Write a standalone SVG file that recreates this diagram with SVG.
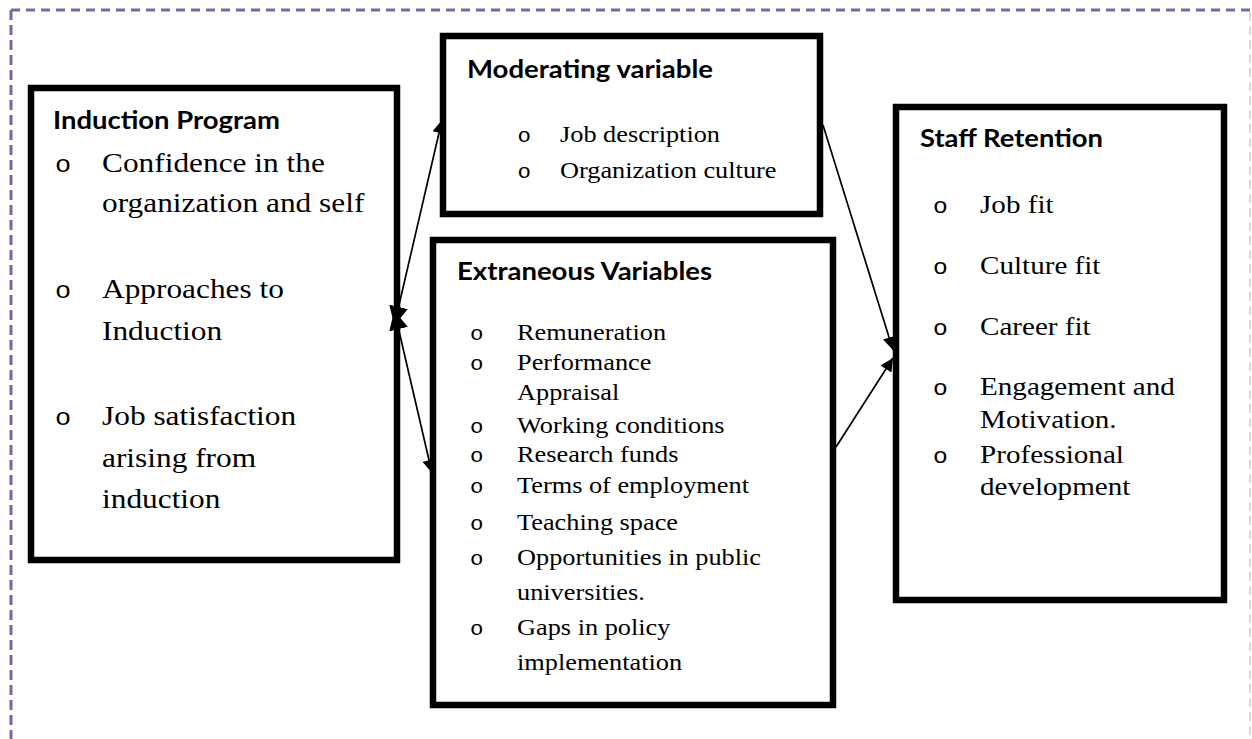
<svg xmlns="http://www.w3.org/2000/svg" width="1252" height="739" viewBox="0 0 1252 739">
  <style>
    .box { fill: #ffffff; stroke: #000000; stroke-width: 6.5; }
    .head { font-family: Lato, "Liberation Sans", sans-serif; font-weight: bold; font-size: 24px; fill: #000; }
    .item { font-family: "Liberation Serif", "Times New Roman", serif; fill: #000; }
    .bul { font-family: "Liberation Mono", "Courier New", monospace; fill: #000; }
    .link { fill: none; stroke: #000; stroke-width: 1.7; }
  </style>
  <defs>
    <marker id="arrB" viewBox="0 0 10 10" refX="10" refY="5" markerWidth="15" markerHeight="13" markerUnits="userSpaceOnUse" orient="auto-start-reverse">
      <path d="M0,0 L10,5 L0,10 z" fill="#000"/>
    </marker>
    <marker id="arrJ" viewBox="0 0 10 10" refX="6" refY="5" markerWidth="19" markerHeight="20" markerUnits="userSpaceOnUse" orient="auto-start-reverse">
      <path d="M0,0 L10,5 L0,10 z" fill="#000"/>
    </marker>
  </defs>
  <rect width="1252" height="739" fill="#ffffff"/>

  <!-- frame -->
  <g id="frame">
    <line x1="11" y1="10" x2="1250" y2="10" stroke="#8064A2" stroke-width="3" stroke-dasharray="9 6"/>
    <line x1="11" y1="10" x2="11" y2="739" stroke="#8064A2" stroke-width="3" stroke-dasharray="10 5"/>
    <line x1="1250" y1="12" x2="1250" y2="739" stroke="#bdbdbd" stroke-width="1.2" stroke-dasharray="9 5"/>
  </g>

  <g id="induction">
    <rect class="box" x="31" y="88" width="366" height="472"/>
    <text class="head" x="53" y="129" textLength="227" lengthAdjust="spacingAndGlyphs">Induction Program</text>
    <g transform="matrix(1.12 0 0 1 102 0)">
      <g class="bul" font-size="24">
        <text x="-42" y="172">o</text>
        <text x="-42" y="298">o</text>
        <text x="-42" y="425">o</text>
      </g>
      <g class="item" font-size="28">
        <text x="0" y="172">Confidence in the</text>
        <text x="0" y="212">organization and self</text>
        <text x="0" y="298">Approaches to</text>
        <text x="0" y="340">Induction</text>
        <text x="0" y="425">Job satisfaction</text>
        <text x="0" y="467">arising from</text>
        <text x="0" y="508">induction</text>
      </g>
    </g>
  </g>

  <g id="moderating">
    <rect class="box" x="443" y="36" width="377" height="178"/>
    <text class="head" x="467" y="78" textLength="246" lengthAdjust="spacingAndGlyphs">Moderating variable</text>
    <g transform="matrix(1.12 0 0 1 560 0)">
      <g class="bul" font-size="20">
        <text x="-38" y="142">o</text>
        <text x="-38" y="178">o</text>
      </g>
      <g class="item" font-size="23.5">
        <text x="0" y="142">Job description</text>
        <text x="0" y="178">Organization culture</text>
      </g>
    </g>
  </g>

  <g id="extraneous">
    <rect class="box" x="433" y="240" width="400" height="465"/>
    <text class="head" x="457" y="280" textLength="255" lengthAdjust="spacingAndGlyphs">Extraneous Variables</text>
    <g transform="matrix(1.12 0 0 1 517 0)">
      <g class="bul" font-size="20">
        <text x="-42" y="340">o</text>
        <text x="-42" y="370">o</text>
        <text x="-42" y="433">o</text>
        <text x="-42" y="462">o</text>
        <text x="-42" y="493">o</text>
        <text x="-42" y="530">o</text>
        <text x="-42" y="565">o</text>
        <text x="-42" y="635">o</text>
      </g>
      <g class="item" font-size="23.5">
        <text x="0" y="340">Remuneration</text>
        <text x="0" y="370">Performance</text>
        <text x="0" y="400">Appraisal</text>
        <text x="0" y="433">Working conditions</text>
        <text x="0" y="462">Research funds</text>
        <text x="0" y="493">Terms of employment</text>
        <text x="0" y="530">Teaching space</text>
        <text x="0" y="565">Opportunities in public</text>
        <text x="0" y="600">universities.</text>
        <text x="0" y="635">Gaps in policy</text>
        <text x="0" y="670">implementation</text>
      </g>
    </g>
  </g>

  <g id="retention">
    <rect class="box" x="896" y="107" width="328" height="493"/>
    <text class="head" x="920" y="147" textLength="183" lengthAdjust="spacingAndGlyphs">Staff Retention</text>
    <g transform="matrix(1.12 0 0 1 980 0)">
      <g class="bul" font-size="22">
        <text x="-42" y="213">o</text>
        <text x="-42" y="274">o</text>
        <text x="-42" y="335">o</text>
        <text x="-42" y="395">o</text>
        <text x="-42" y="463">o</text>
      </g>
      <g class="item" font-size="26">
        <text x="0" y="213">Job fit</text>
        <text x="0" y="274">Culture fit</text>
        <text x="0" y="335">Career fit</text>
        <text x="0" y="395">Engagement and</text>
        <text x="0" y="428">Motivation.</text>
        <text x="0" y="463">Professional</text>
        <text x="0" y="495">development</text>
      </g>
    </g>
  </g>

  <!-- connectors, drawn over the box outlines -->
  <g id="connectors">
    <line class="link" x1="396" y1="318" x2="442" y2="120" marker-start="url(#arrJ)" marker-end="url(#arrB)"/>
    <line class="link" x1="396" y1="318" x2="432" y2="473" marker-start="url(#arrJ)" marker-end="url(#arrB)"/>
    <line class="link" x1="823" y1="125" x2="893" y2="350" marker-end="url(#arrB)"/>
    <line class="link" x1="836" y1="447" x2="893" y2="358" marker-end="url(#arrB)"/>
  </g>
</svg>
